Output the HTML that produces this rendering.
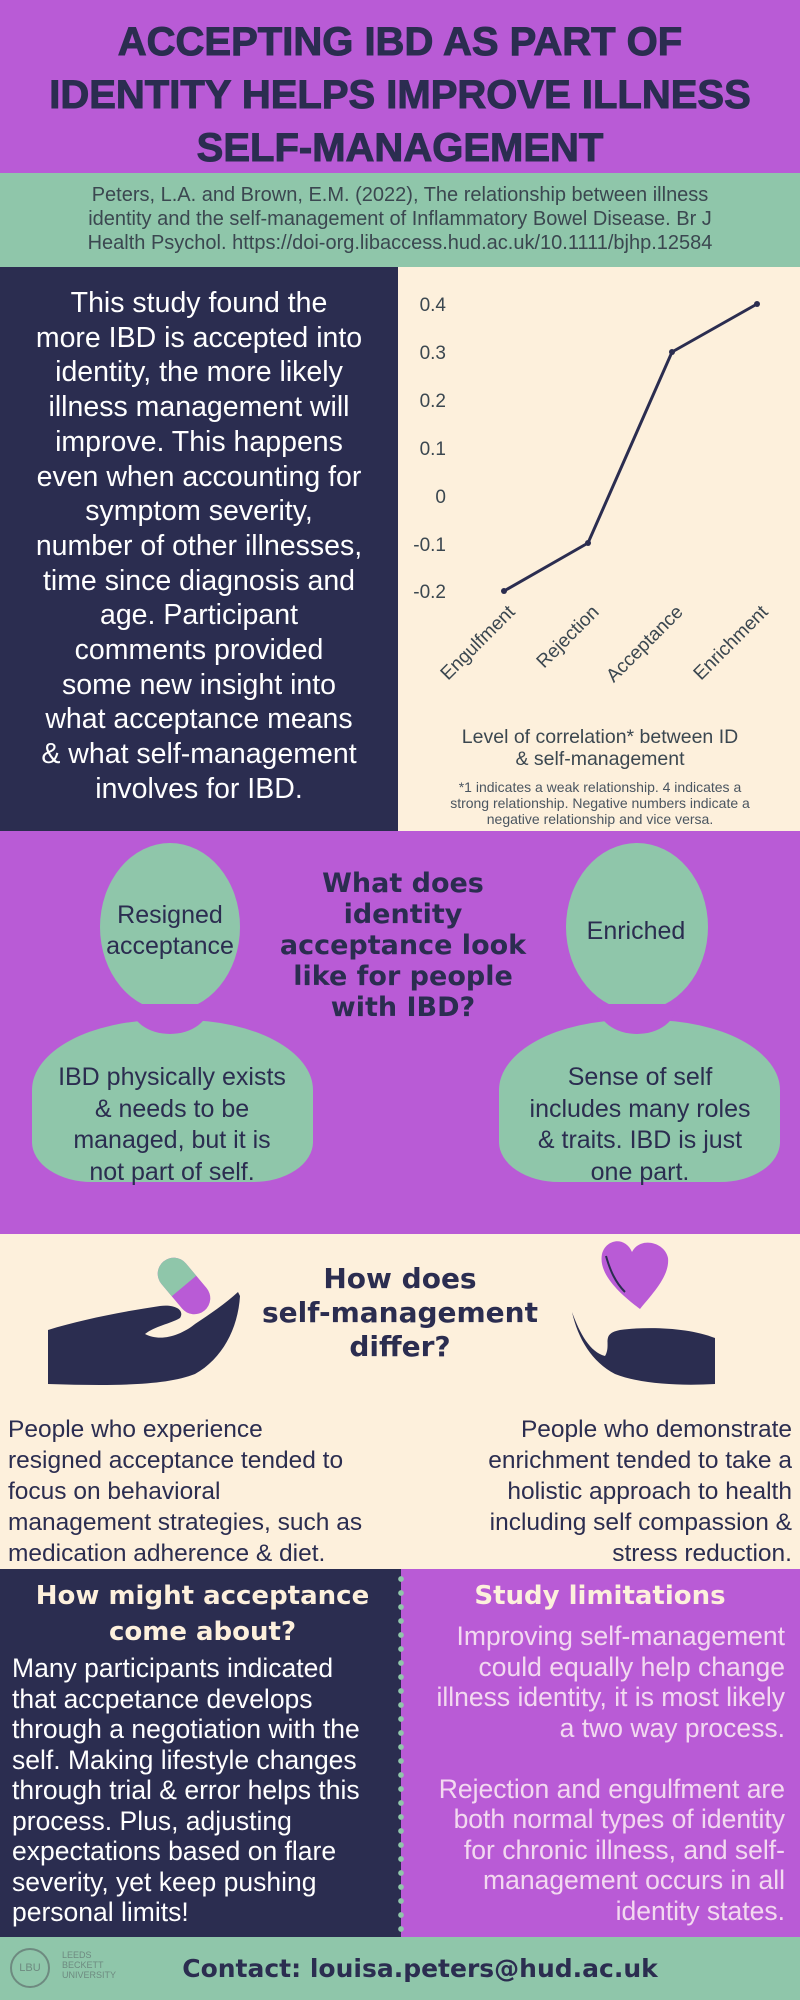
<!DOCTYPE html>
<html><head><meta charset="utf-8">
<style>
*{margin:0;padding:0;box-sizing:border-box}
body{width:800px;height:2000px;position:relative;overflow:hidden;font-family:"Liberation Sans","DejaVu Sans",sans-serif}
.a{position:absolute}
.c{text-align:center}
.r{text-align:right}
.hv{font-family:"DejaVu Sans","Liberation Sans",sans-serif;font-weight:bold}
</style></head><body>
<div class="a" style="left:0;top:0;width:800px;height:173px;background:#b95bd6"></div>
<div class="a c" style="left:0;top:16px;width:800px;font-size:40px;line-height:53px;color:#2b2d50;font-weight:bold;white-space:nowrap;font-family:'Liberation Sans',sans-serif;-webkit-text-stroke:1px #2b2d50">ACCEPTING IBD AS PART OF<br>IDENTITY HELPS IMPROVE ILLNESS<br>SELF-MANAGEMENT</div>

<div class="a" style="left:0;top:173px;width:800px;height:94px;background:#8fc6aa"></div>
<div class="a c" style="left:0;top:183px;width:800px;font-size:20px;line-height:24px;color:#3b4750">Peters, L.A. and Brown, E.M. (2022), The relationship between illness<br>identity and the self-management of Inflammatory Bowel Disease. Br J<br>Health Psychol. https://doi-org.libaccess.hud.ac.uk/10.1111/bjhp.12584</div>

<div class="a" style="left:0;top:267px;width:398px;height:564px;background:#2b2d50"></div>
<div class="a" style="left:398px;top:267px;width:402px;height:564px;background:#fdf0dc"></div>
<div class="a c" style="left:0;top:286px;width:398px;font-size:28.5px;line-height:34.7px;color:#fff">This study found the<br>more IBD is accepted into<br>identity, the more likely<br>illness management will<br>improve. This happens<br>even when accounting for<br>symptom severity,<br>number of other illnesses,<br>time since diagnosis and<br>age. Participant<br>comments provided<br>some new insight into<br>what acceptance means<br>&amp; what self-management<br>involves for IBD.</div>

<svg class="a" style="left:398px;top:267px" width="402" height="564">
<g font-family="Liberation Sans,sans-serif" font-size="19" fill="#3b4750" text-anchor="end">
<text x="48" y="44">0.4</text><text x="48" y="92">0.3</text><text x="48" y="140">0.2</text><text x="48" y="188">0.1</text><text x="48" y="236">0</text><text x="48" y="284">-0.1</text><text x="48" y="331">-0.2</text>
</g>
<polyline points="106,324 190,276 274,85 359,37" fill="none" stroke="#2b2d50" stroke-width="3"/>
<g fill="#2b2d50"><circle cx="106" cy="324" r="3"/><circle cx="190" cy="276" r="3"/><circle cx="274" cy="85" r="3"/><circle cx="359" cy="37" r="3"/></g>
<g font-family="Liberation Sans,sans-serif" font-size="19" fill="#3b4750" text-anchor="end">
<text transform="translate(118,346) rotate(-45)">Engulfment</text>
<text transform="translate(202,346) rotate(-45)">Rejection</text>
<text transform="translate(286,346) rotate(-45)">Acceptance</text>
<text transform="translate(371,346) rotate(-45)">Enrichment</text>
</g>
</svg>
<div class="a c" style="left:400px;top:726px;width:400px;font-size:19.5px;line-height:22px;color:#3b4750">Level of correlation* between ID<br>&amp; self-management</div>
<div class="a c" style="left:400px;top:779px;width:400px;font-size:14px;line-height:16px;color:#4a5560">*1 indicates a weak relationship. 4 indicates a<br>strong relationship. Negative numbers indicate a<br>negative relationship and vice versa.</div>

<div class="a" style="left:0;top:831px;width:800px;height:403px;background:#b95bd6"></div>
<div class="a" style="left:100px;top:843px;width:140px;height:168px;border-radius:50%;background:#8fc6aa"></div>
<div class="a" style="left:32px;top:1020px;width:281px;height:162px;background:#8fc6aa;border-radius:130px 130px 60px 60px / 70px 70px 40px 40px"></div>
<div class="a" style="left:130px;top:1004px;width:80px;height:30px;background:#b95bd6;border-radius:0 0 40px 40px / 0 0 30px 30px"></div>
<div class="a" style="left:566px;top:843px;width:142px;height:168px;border-radius:50%;background:#8fc6aa"></div>
<div class="a" style="left:499px;top:1020px;width:281px;height:162px;background:#8fc6aa;border-radius:130px 130px 60px 60px / 70px 70px 40px 40px"></div>
<div class="a" style="left:597px;top:1004px;width:80px;height:30px;background:#b95bd6;border-radius:0 0 40px 40px / 0 0 30px 30px"></div>
<div class="a c" style="left:70px;top:900px;width:200px;font-size:25px;line-height:31px;color:#2b2d50">Resigned<br>acceptance</div>
<div class="a c" style="left:536px;top:916px;width:200px;font-size:25px;line-height:31px;color:#2b2d50">Enriched</div>
<div class="a c" style="left:22px;top:1062px;width:300px;font-size:25px;line-height:31.5px;color:#2b2d50">IBD physically exists<br>&amp; needs to be<br>managed, but it is<br>not part of self.</div>
<div class="a c" style="left:490px;top:1062px;width:300px;font-size:25px;line-height:31.5px;color:#2b2d50">Sense of self<br>includes many roles<br>&amp; traits. IBD is just<br>one part.</div>
<div class="a c hv" style="left:253px;top:868px;width:300px;font-size:27px;line-height:31px;color:#2b2d50">What does<br>identity<br>acceptance look<br>like for people<br>with IBD?</div>

<div class="a" style="left:0;top:1234px;width:800px;height:335px;background:#fdf0dc"></div>
<div class="a c hv" style="left:220px;top:1262px;width:360px;font-size:28px;line-height:34px;color:#2b2d50">How does<br>self-management<br>differ?</div>
<svg class="a" style="left:0;top:1234px" width="800" height="200">
<g transform="translate(184,52) rotate(-40)">
<rect x="-16" y="-32" width="32" height="64" rx="16" fill="#b95bd6"/>
<path d="M-16,0 V-16 A16,16 0 0 1 16,-16 V0 Z" fill="#8fc6aa"/>
</g>
<path d="M48,96 C80,86 120,78 160,72 C175,70 185,76 180,84 C170,90 155,92 145,100 C160,108 180,102 195,90 C210,80 225,70 238,58 L240,62 C238,95 222,125 195,140 C165,152 110,152 48,150 Z" fill="#2b2d50"/>
<path d="M640,75 C620,60 598,40 602,20 C606,5 625,2 632,18 C640,2 665,8 668,24 C670,42 652,60 640,75 Z" fill="#b95bd6"/>
<path d="M606,22 C610,36 615,48 625,58" stroke="#2b2d50" stroke-width="2" fill="none"/>
<path d="M572,78 C580,100 590,118 605,122 C612,110 600,100 620,96 C650,92 690,94 715,104 L715,150 C680,152 640,150 615,140 C592,128 578,105 572,78 Z" fill="#2b2d50"/>
</svg>
<div class="a" style="left:8px;top:1414px;width:400px;font-size:24.5px;line-height:31px;color:#2b2d50">People who experience<br>resigned acceptance tended to<br>focus on behavioral<br>management strategies, such as<br>medication adherence &amp; diet.</div>
<div class="a r" style="left:390px;top:1414px;width:402px;font-size:24.5px;line-height:31px;color:#2b2d50">People who demonstrate<br>enrichment tended to take a<br>holistic approach to health<br>including self compassion &amp;<br>stress reduction.</div>

<div class="a" style="left:0;top:1569px;width:401px;height:368px;background:#2b2d50"></div>
<div class="a" style="left:401px;top:1569px;width:399px;height:368px;background:#b95bd6"></div>
<div class="a" style="left:398px;top:1572px;width:6px;height:362px;background:radial-gradient(circle,#8fc6aa 2.6px,transparent 3px) 0 0/6px 14px repeat-y"></div>
<div class="a c hv" style="left:0;top:1578px;width:405px;font-size:26px;line-height:36px;color:#fdf0dc">How might acceptance<br>come about?</div>
<div class="a c hv" style="left:405px;top:1578px;width:390px;font-size:26px;line-height:36px;color:#fdf0dc">Study limitations</div>
<div class="a" style="left:12px;top:1653px;width:400px;font-size:26.5px;line-height:30.5px;color:#fff;white-space:nowrap">Many participants indicated<br>that accpetance develops<br>through a negotiation with the<br>self. Making lifestyle changes<br>through trial &amp; error helps this<br>process. Plus, adjusting<br>expectations based on flare<br>severity, yet keep pushing<br>personal limits!</div>
<div class="a r" style="left:405px;top:1621px;width:380px;font-size:26.5px;line-height:30.5px;color:#f3d9f0;white-space:nowrap">Improving self-management<br>could equally help change<br>illness identity, it is most likely<br>a two way process.<br><br>Rejection and engulfment are<br>both normal types of identity<br>for chronic illness, and self-<br>management occurs in all<br>identity states.</div>

<div class="a" style="left:0;top:1937px;width:800px;height:63px;background:#8fc6aa"></div>
<div class="a" style="left:10px;top:1948px;width:40px;height:40px;border:2px solid #6e8a80;border-radius:50%;font-size:11px;color:#6e8a80;text-align:center;line-height:36px">LBU</div>
<div class="a" style="left:62px;top:1950px;font-size:9px;line-height:10px;color:#6e8a80">LEEDS<br>BECKETT<br>UNIVERSITY</div>
<div class="a c hv" style="left:170px;top:1952px;width:500px;font-size:25px;line-height:34px;color:#2b2d50">Contact: louisa.peters@hud.ac.uk</div>
</body></html>
